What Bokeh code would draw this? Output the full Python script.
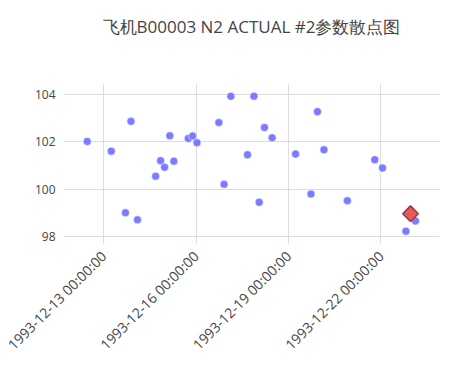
import math
from datetime import datetime, timedelta
from bokeh.plotting import figure
from bokeh.models import FixedTicker, DatetimeTickFormatter, Range1d, ColumnDataSource
from bokeh.embed import file_html
from bokeh.resources import INLINE

title_text = "飞机B00003 N2 ACTUAL #2参数散点图"

# fractional day of December 1993 and N2 ACTUAL #2 value
days = [12.47, 13.25, 13.89, 13.71, 14.10, 14.69, 14.85, 14.98, 15.15, 15.28,
        15.75, 15.89, 16.03, 16.74, 16.91, 17.13, 17.67, 17.88, 18.05, 18.22,
        18.47, 19.23, 19.73, 19.94, 20.15, 20.91, 21.80, 22.05, 22.81, 23.12]
values = [102.01, 101.60, 102.86, 99.00, 98.70, 100.54, 101.20, 100.92, 102.25, 101.18,
          102.14, 102.24, 101.96, 102.81, 100.20, 103.92, 101.45, 103.92, 99.44, 102.60,
          102.17, 101.48, 99.79, 103.27, 101.66, 99.51, 101.24, 100.89, 98.22, 98.65]

highlight_day = [22.96]
highlight_value = [98.96]

x_tick_labels = ["1993-12-13 00:00:00", "1993-12-16 00:00:00",
                 "1993-12-19 00:00:00", "1993-12-22 00:00:00"]
y_ticks = [98, 100, 102, 104]

base = datetime(1993, 12, 1)
def to_dt(d):
    return base + timedelta(days=d - 1)

xs = [to_dt(d) for d in days]
hx = [to_dt(d) for d in highlight_day]

def ms(dt):
    return (dt - datetime(1970, 1, 1)).total_seconds() * 1000.0

tick_ms = [ms(datetime.strptime(t, "%Y-%m-%d %H:%M:%S")) for t in x_tick_labels]

p = figure(width=450, height=365, output_backend="svg", toolbar_location=None,
           x_axis_type="datetime",
           x_range=Range1d(ms(to_dt(11.70)), ms(to_dt(23.90))),
           y_range=Range1d(97.70, 104.46),
           min_border_left=63, min_border_right=11, min_border_top=83, min_border_bottom=122)

p.title.text = title_text + "\n\n"
p.title.align = "center"
p.title.vertical_align = "bottom"
p.title.text_font = "Open Sans"
p.title.text_font_size = "17px"
p.title.text_font_style = "normal"
p.title.text_color = "#444444"
p.title.standoff = 0

p.outline_line_color = None
p.background_fill_color = "white"
p.border_fill_color = "white"

for ax in (p.xaxis[0], p.yaxis[0]):
    ax.axis_line_color = None
    ax.major_tick_line_color = None
    ax.minor_tick_line_color = None
    ax.major_label_text_font = "Open Sans"
    ax.major_label_text_font_size = "12px"
    ax.major_label_text_color = "#444444"

p.xaxis[0].major_label_text_font_size = "14px"
p.xaxis[0].ticker = FixedTicker(ticks=tick_ms)
p.xaxis[0].formatter = DatetimeTickFormatter(days="%Y-%m-%d %H:%M:%S", months="%Y-%m-%d %H:%M:%S",
                                             hours="%Y-%m-%d %H:%M:%S")
p.xaxis[0].major_label_orientation = math.pi / 4
p.xaxis[0].major_label_standoff = 4
p.yaxis[0].ticker = FixedTicker(ticks=y_ticks)
p.yaxis[0].major_label_standoff = 2

p.xgrid.grid_line_color = "#dddddd"
p.ygrid.grid_line_color = "#dddddd"
p.xgrid.ticker = p.xaxis[0].ticker
p.ygrid.ticker = p.yaxis[0].ticker

src = ColumnDataSource(dict(x=xs, y=values))
p.scatter("x", "y", source=src, size=8, fill_color="#7b7bff", line_color="white", line_width=0.5)

hsrc = ColumnDataSource(dict(x=hx, y=highlight_value))
p.scatter("x", "y", source=hsrc, marker="square", angle=math.pi / 4, size=11,
          fill_color="#e45b5b", line_color="#a83232", line_width=1.5)

open("out.html", "w").write(file_html(p, INLINE))
